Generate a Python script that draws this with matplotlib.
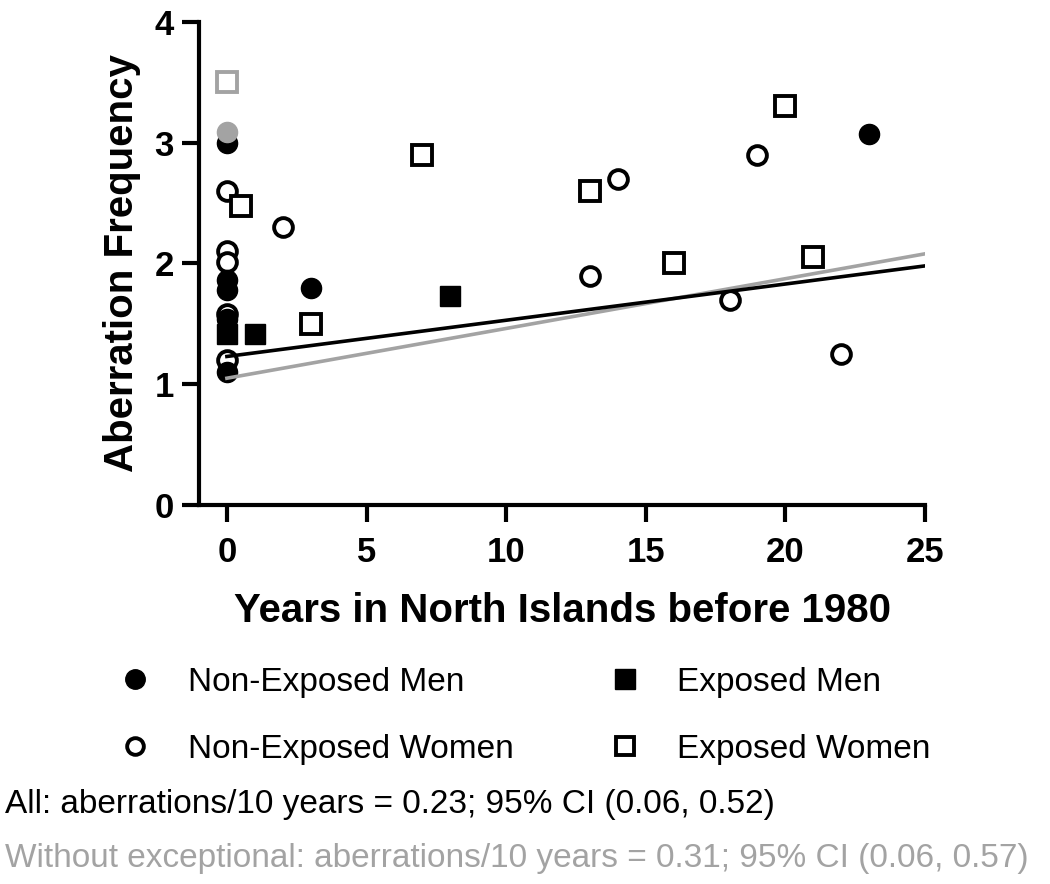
"""Aberration frequency vs years in North Islands before 1980."""

import matplotlib
matplotlib.use("Agg")
import matplotlib.pyplot as plt
from matplotlib.lines import Line2D

plt.rcParams["font.family"] = ["Liberation Sans", "DejaVu Sans"]

GRAY = "#a3a3a3"

# non-exposed men (filled circles)
nem_x = [0, 0, 0, 0, 0, 3, 23]
nem_y = [3.00, 1.86, 1.78, 1.54, 1.10, 1.80, 3.07]
# exposed men (filled squares)
em_x = [0, 1, 8]
em_y = [1.42, 1.42, 1.73]
# non-exposed women (open circles)
new_x = [0, 0, 0, 0, 0, 2, 13, 14, 18, 19, 22]
new_y = [2.60, 2.10, 2.01, 1.58, 1.20, 2.30, 1.90, 2.70, 1.70, 2.90, 1.25]
# exposed women (open squares)
ew_x = [0.5, 3, 7, 13, 16, 20, 21]
ew_y = [2.48, 1.50, 2.90, 2.60, 2.00, 3.30, 2.05]
# exceptional points (grey)
exc_circle_x = [0]
exc_circle_y = [3.09]
exc_square_x = [0]
exc_square_y = [3.50]

# regression lines
fit_x = [0, 25]
fit_all_y = [1.23, 1.98]
fit_without_y = [1.05, 2.08]

x_ticks = [0, 5, 10, 15, 20, 25]
y_ticks = [0, 1, 2, 3, 4]

fig = plt.figure(figsize=(10.5, 8.84), dpi=100)
ax = fig.add_axes([0.1895, 0.4287, 0.6915, 0.5465])

ms = 13.5
mew = 2.8
ax.plot(new_x, new_y, "o", ms=ms, mfc="white", mec="black", mew=mew, ls="none", clip_on=False, zorder=3)
ax.plot(ew_x, ew_y, "s", ms=ms + 0.5, mfc="white", mec="black", mew=mew, ls="none", clip_on=False, zorder=3)
ax.plot(nem_x, nem_y, "o", ms=14.5, color="black", ls="none", clip_on=False, zorder=4)
ax.plot(em_x, em_y, "s", ms=14.5, color="black", ls="none", clip_on=False, zorder=4)
ax.plot(exc_circle_x, exc_circle_y, "o", ms=14.5, color=GRAY, ls="none", clip_on=False, zorder=5)
ax.plot(exc_square_x, exc_square_y, "s", ms=ms + 0.5, mfc="white", mec=GRAY, mew=mew, ls="none", clip_on=False, zorder=5)

ax.plot(fit_x, fit_without_y, color=GRAY, lw=2.6, zorder=6)
ax.plot(fit_x, fit_all_y, color="black", lw=2.6, zorder=7)

ax.set_xlim(-1, 25)
ax.set_ylim(0, 4)
ax.set_xticks(x_ticks)
ax.set_yticks(y_ticks)
for side in ["top", "right"]:
    ax.spines[side].set_visible(False)
for side in ["left", "bottom"]:
    ax.spines[side].set_linewidth(3)
ax.tick_params(width=3, length=12, labelsize=25)
ax.tick_params(axis="x", pad=10)
ax.tick_params(axis="y", pad=6)
for lab in ax.get_xticklabels() + ax.get_yticklabels():
    lab.set_fontweight("bold")

ax.set_xlabel("Years in North Islands before 1980", fontsize=29, fontweight="bold", labelpad=17)
ax.set_ylabel("Aberration Frequency", fontsize=29, fontweight="bold", labelpad=10)

handles = [
    Line2D([], [], marker="o", ls="none", ms=14, color="black"),
    Line2D([], [], marker="o", ls="none", ms=12, mfc="white", mec="black", mew=2.8),
    Line2D([], [], marker="s", ls="none", ms=14, color="black"),
    Line2D([], [], marker="s", ls="none", ms=13, mfc="white", mec="black", mew=2.8),
]
labels = ["Non-Exposed Men", "Non-Exposed Women", "Exposed Men", "Exposed Women"]
fig.legend(handles, labels, loc="upper left", bbox_to_anchor=(0.097, 0.2455), ncol=2,
           frameon=False, fontsize=24, borderpad=0, borderaxespad=0,
           handlelength=2, handletextpad=0.57, columnspacing=2.35, labelspacing=1.08)

fig.text(0.005, 1 - 805 / 884, "All: aberrations/10 years = 0.23; 95% CI (0.06, 0.52)",
         fontsize=24, va="center", ha="left", color="black")
fig.text(0.005, 1 - 858 / 884, "Without exceptional: aberrations/10 years = 0.31; 95% CI (0.06, 0.57)",
         fontsize=24, va="center", ha="left", color=GRAY)

fig.savefig("out.png", dpi=100)
